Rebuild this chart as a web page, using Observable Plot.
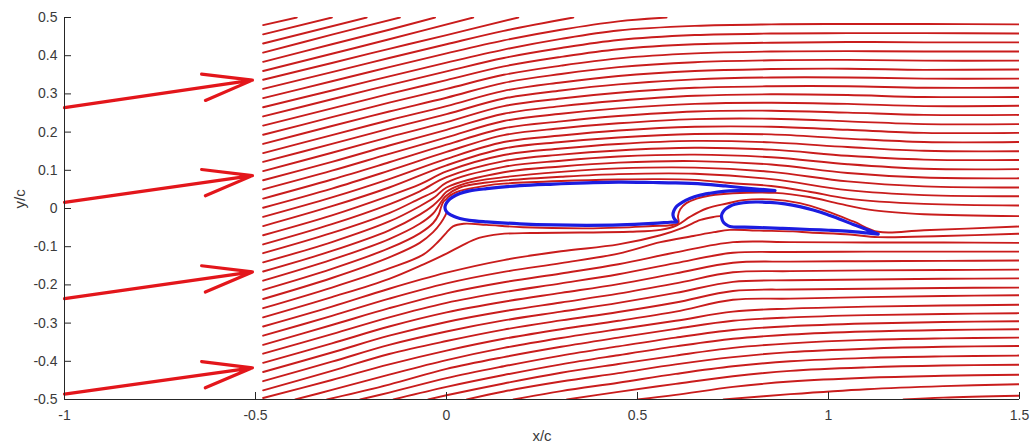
<!DOCTYPE html>
<html><head><meta charset="utf-8">
<script src="https://cdn.jsdelivr.net/npm/d3@7"></script>
<script src="https://cdn.jsdelivr.net/npm/@observablehq/plot@0.6"></script>
<style>html,body{margin:0;padding:0;background:#fff;} svg{display:block;}</style>
</head><body>
<script>
// ---- axis ticks ----
const xTicks = [-1, -0.5, 0, 0.5, 1, 1.5];
const xTickLabels = ["-1", "-0.5", "0", "0.5", "1", "1.5"];
const yTicks = [-0.5, -0.4, -0.3, -0.2, -0.1, 0, 0.1, 0.2, 0.3, 0.4, 0.5];
const yTickLabels = ["-0.5", "-0.4", "-0.3", "-0.2", "-0.1", "0", "0.1", "0.2", "0.3", "0.4", "0.5"];

// ---- free-stream arrows ----
const arrowStartX = -1, arrowTipX = -0.508;
const arrowStartY = [0.264, 0.016, -0.236, -0.486];
const arrowTipY = [0.336, 0.086, -0.166, -0.417];

// ---- streamlines that leave through the top edge ----
const topExitLines = [
  [[-0.48, 0.480], [-0.392, 0.5]],
  [[-0.48, 0.456], [-0.30, 0.5]],
  [[-0.48, 0.432], [-0.209, 0.5]],
  [[-0.48, 0.408], [-0.30, 0.455], [-0.122, 0.5]],
  [[-0.48, 0.384], [-0.30, 0.430], [-0.15, 0.468], [-0.03, 0.5]],
  [[-0.48, 0.360], [-0.30, 0.405], [-0.15, 0.443], [0.07, 0.5]],
  [[-0.48, 0.337], [-0.30, 0.381], [-0.15, 0.418], [0, 0.454], [0.188, 0.5]],
  [[-0.48, 0.313], [-0.30, 0.357], [-0.15, 0.394], [0, 0.430], [0.15, 0.465], [0.332, 0.5]],
  [[-0.48, 0.289], [-0.30, 0.333], [-0.15, 0.370], [0, 0.406], [0.15, 0.440], [0.30, 0.468], [0.45, 0.490], [0.576, 0.5]]
];

// ---- streamlines passing above the main element ----
const upperStationsX = [-0.48, -0.3, -0.15, 0, 0.15, 0.3, 0.45, 0.65, 0.85, 1.05, 1.25, 1.5];
const upperLinesY = [
  [0.265, 0.309, 0.346, 0.382, 0.416, 0.444, 0.466, 0.478, 0.482, 0.483, 0.483, 0.482],
  [0.241, 0.286, 0.323, 0.359, 0.394, 0.420, 0.441, 0.454, 0.458, 0.459, 0.459, 0.458],
  [0.217, 0.262, 0.300, 0.336, 0.372, 0.397, 0.417, 0.430, 0.434, 0.436, 0.435, 0.435],
  [0.193, 0.239, 0.277, 0.313, 0.350, 0.374, 0.393, 0.406, 0.411, 0.412, 0.411, 0.411],
  [0.169, 0.216, 0.254, 0.290, 0.329, 0.352, 0.370, 0.383, 0.388, 0.389, 0.387, 0.387],
  [0.145, 0.192, 0.231, 0.268, 0.308, 0.330, 0.347, 0.360, 0.365, 0.366, 0.363, 0.364],
  [0.122, 0.169, 0.209, 0.247, 0.288, 0.309, 0.325, 0.338, 0.343, 0.343, 0.340, 0.340],
  [0.098, 0.146, 0.187, 0.226, 0.268, 0.288, 0.303, 0.316, 0.320, 0.320, 0.316, 0.316],
  [0.074, 0.122, 0.165, 0.206, 0.248, 0.268, 0.282, 0.295, 0.299, 0.297, 0.292, 0.292],
  [0.050, 0.099, 0.143, 0.186, 0.229, 0.248, 0.262, 0.274, 0.277, 0.274, 0.268, 0.269],
  [0.026, 0.076, 0.121, 0.167, 0.210, 0.228, 0.242, 0.254, 0.256, 0.251, 0.245, 0.245],
  [0.002, 0.052, 0.099, 0.148, 0.192, 0.210, 0.223, 0.234, 0.235, 0.228, 0.221, 0.221],
  [-0.022, 0.029, 0.077, 0.130, 0.174, 0.191, 0.204, 0.214, 0.214, 0.206, 0.198, 0.198],
  [-0.046, 0.006, 0.055, 0.113, 0.157, 0.174, 0.186, 0.195, 0.194, 0.183, 0.174, 0.174],
  [-0.070, -0.018, 0.033, 0.097, 0.140, 0.157, 0.169, 0.177, 0.173, 0.161, 0.151, 0.150],
  [-0.094, -0.041, 0.011, 0.082, 0.124, 0.141, 0.152, 0.159, 0.154, 0.138, 0.128, 0.127],
  [-0.117, -0.064, -0.012, 0.068, 0.109, 0.125, 0.136, 0.141, 0.134, 0.116, 0.104, 0.103],
  [-0.141, -0.088, -0.034, 0.055, 0.095, 0.110, 0.120, 0.124, 0.115, 0.093, 0.081, 0.079],
  [-0.165, -0.111, -0.057, 0.044, 0.082, 0.096, 0.105, 0.107, 0.096, 0.071, 0.058, 0.055],
  [-0.189, -0.134, -0.080, 0.034, 0.073, 0.083, 0.090, 0.091, 0.077, 0.048, 0.035, 0.032],
  [-0.213, -0.158, -0.104, 0.025, 0.065, 0.072, 0.076, 0.075, 0.059, 0.026, 0.012, 0.008]
];
// extra points where these lines bend round the leading edge
const upperExtraPoints = {
  14: [[-0.07, 0.063]],
  15: [[-0.07, 0.045]],
  16: [[-0.07, 0.026], [-0.03, 0.045]],
  17: [[-0.07, 0.006], [-0.03, 0.030]],
  18: [[-0.07, -0.016], [-0.035, 0.008], [-0.015, 0.027], [0.05, 0.066]],
  19: [[-0.07, -0.040], [-0.035, -0.013], [-0.02, 0.008], [-0.01, 0.023], [0.035, 0.055], [0.105, 0.068]],
  20: [[-0.07, -0.065], [-0.035, -0.038], [-0.02, -0.015], [-0.014, 0.004], [-0.008, 0.018], [0.005, 0.031], [0.035, 0.046], [0.105, 0.060], [0.55, 0.077], [0.75, 0.066], [0.95, 0.044]]
};

// ---- streamlines near the lower surface, slot and flap ----
const nearWallLines = [
  // stagnation line on the main element nose
  [[-0.48, -0.237], [-0.3, -0.182], [-0.15, -0.128], [-0.07, -0.09], [-0.035, -0.062], [-0.015, -0.038], [-0.003, -0.018], [0.0, -0.011]],
  // along the main lower surface, round the cove, past the main trailing edge
  [[-0.48, -0.261], [-0.3, -0.207], [-0.15, -0.157], [-0.06, -0.12], [-0.02, -0.085], [0.0, -0.063], [0.017, -0.047], [0.045, -0.04], [0.105, -0.043], [0.2, -0.049], [0.367, -0.052], [0.454, -0.05], [0.54, -0.046], [0.585, -0.044], [0.607, -0.038], [0.606, -0.02], [0.612, -0.002], [0.628, 0.014], [0.655, 0.026], [0.69, 0.034], [0.75, 0.04], [0.86, 0.041], [0.95, 0.03], [1.03, 0.012], [1.12, -0.005], [1.25, -0.015], [1.5, -0.02]],
  // through the slot and over the flap
  [[-0.48, -0.285], [-0.3, -0.232], [-0.15, -0.184], [-0.06, -0.146], [0.0, -0.118], [0.04, -0.097], [0.085, -0.077], [0.14, -0.067], [0.22, -0.064], [0.35, -0.063], [0.48, -0.061], [0.56, -0.056], [0.603, -0.044], [0.637, -0.022], [0.681, 0.0], [0.734, 0.013], [0.777, 0.022], [0.847, 0.024], [0.925, 0.014], [0.995, -0.007], [1.065, -0.034], [1.13, -0.061], [1.25, -0.057], [1.5, -0.047]],
  // stagnation line on the flap nose
  [[-0.48, -0.309], [-0.3, -0.257], [-0.15, -0.21], [0, -0.168], [0.15, -0.135], [0.3, -0.112], [0.45, -0.094], [0.56, -0.07], [0.62, -0.05], [0.665, -0.03], [0.7, -0.022], [0.716, -0.02]],
  // along the flap lower surface
  [[-0.48, -0.333], [-0.3, -0.281], [-0.15, -0.236], [0, -0.196], [0.15, -0.166], [0.3, -0.143], [0.45, -0.118], [0.56, -0.088], [0.646, -0.072], [0.7, -0.062], [0.742, -0.056], [0.82, -0.058], [0.907, -0.06], [0.951, -0.063], [1.056, -0.068], [1.13, -0.075], [1.3, -0.072], [1.5, -0.066]]
];

// ---- streamlines below the airfoil ----
const lowerStationsX = [-0.48, -0.3, -0.15, 0, 0.15, 0.3, 0.45, 0.6, 0.75, 0.9, 1.1, 1.3, 1.5];
const lowerLinesY = [
  [-0.357, -0.305, -0.261, -0.222, -0.193, -0.170, -0.146, -0.115, -0.088, -0.088, -0.089, -0.089, -0.090],
  [-0.380, -0.329, -0.285, -0.247, -0.219, -0.196, -0.172, -0.143, -0.116, -0.114, -0.113, -0.113, -0.113],
  [-0.404, -0.353, -0.309, -0.272, -0.244, -0.221, -0.198, -0.170, -0.142, -0.139, -0.138, -0.137, -0.136],
  [-0.428, -0.377, -0.333, -0.297, -0.269, -0.246, -0.223, -0.196, -0.167, -0.164, -0.162, -0.161, -0.160],
  [-0.452, -0.401, -0.357, -0.322, -0.293, -0.270, -0.247, -0.221, -0.192, -0.188, -0.186, -0.184, -0.183],
  [-0.476, -0.425, -0.381, -0.347, -0.317, -0.293, -0.271, -0.246, -0.216, -0.212, -0.210, -0.208, -0.207],
  [-0.496, -0.449, -0.408, -0.372, -0.341, -0.316, -0.294, -0.270, -0.239, -0.236, -0.232, -0.229, -0.227]
];
// streamlines entering through the bottom edge
const bottomEntryX = [-0.396, -0.313, -0.226, -0.139, -0.048, 0.053, 0.175, 0.315, 0.5, 0.725, 1.196];
const bottomLinesY = [
  [null, -0.475, -0.435, -0.397, -0.365, -0.339, -0.316, -0.294, -0.270, -0.262, -0.257, -0.254, -0.252],
  [null, null, -0.461, -0.420, -0.389, -0.362, -0.338, -0.315, -0.294, -0.285, -0.279, -0.276, -0.274],
  [null, null, -0.482, -0.444, -0.413, -0.385, -0.361, -0.338, -0.318, -0.308, -0.301, -0.297, -0.295],
  [null, null, null, -0.467, -0.436, -0.408, -0.384, -0.361, -0.341, -0.330, -0.322, -0.318, -0.316],
  [null, null, null, -0.489, -0.458, -0.430, -0.407, -0.385, -0.365, -0.353, -0.344, -0.340, -0.338],
  [null, null, null, null, -0.479, -0.453, -0.431, -0.408, -0.389, -0.376, -0.367, -0.362, -0.360],
  [null, null, null, null, null, -0.478, -0.456, -0.433, -0.413, -0.400, -0.391, -0.387, -0.385],
  [null, null, null, null, null, null, -0.480, -0.459, -0.439, -0.425, -0.416, -0.411, -0.409],
  [null, null, null, null, null, null, null, -0.488, -0.467, -0.453, -0.443, -0.438, -0.435],
  [null, null, null, null, null, null, null, null, null, -0.486, -0.473, -0.465, -0.460],
  [null, null, null, null, null, null, null, null, null, null, null, -0.495, -0.490]
];

// ---- two-element airfoil outlines ----
const mainElement = [
  [0.86, 0.047], [0.79, 0.053], [0.73, 0.059], [0.672, 0.064], [0.6, 0.067], [0.541, 0.068], [0.45, 0.069],
  [0.367, 0.067], [0.28, 0.064], [0.192, 0.060], [0.105, 0.052], [0.06, 0.046], [0.035, 0.039], [0.015, 0.029],
  [0.004, 0.020], [-0.002, 0.011], [-0.004, 0.003], [-0.002, -0.005], [0.005, -0.013], [0.02, -0.021],
  [0.035, -0.026], [0.06, -0.031], [0.105, -0.035], [0.192, -0.040], [0.28, -0.043], [0.367, -0.044],
  [0.454, -0.043], [0.541, -0.039], [0.585, -0.036], [0.603, -0.035], [0.597, -0.028], [0.593, -0.018],
  [0.595, -0.006], [0.603, 0.006], [0.618, 0.017], [0.637, 0.026], [0.66, 0.034], [0.69, 0.040],
  [0.725, 0.045], [0.76, 0.047], [0.81, 0.047], [0.86, 0.047]
];
const flapElement = [
  [1.13, -0.067], [1.1, -0.055], [1.065, -0.042], [1.03, -0.028], [0.995, -0.015], [0.96, -0.004],
  [0.925, 0.005], [0.886, 0.012], [0.847, 0.016], [0.81, 0.017], [0.777, 0.015], [0.755, 0.011],
  [0.742, 0.006], [0.731, -0.001], [0.724, -0.009], [0.72, -0.018], [0.721, -0.027], [0.725, -0.036],
  [0.732, -0.042], [0.742, -0.047], [0.78, -0.049], [0.82, -0.050], [0.88, -0.052], [0.951, -0.055],
  [1.0, -0.057], [1.056, -0.060], [1.1, -0.064], [1.13, -0.067]
];

// ---- build tables for Plot ----
const streams = [];
let sid = 0;
function addLine(pts) { const id = sid++; pts.forEach(([x, y], j) => streams.push({id, j, x, y})); }
topExitLines.forEach(addLine);
upperLinesY.forEach((ys, k) => {
  const pts = upperStationsX.map((x, s) => [x, ys[s]]).concat(upperExtraPoints[k] || []);
  pts.sort((a, b) => a[0] - b[0]);
  addLine(pts);
});
nearWallLines.forEach(addLine);
lowerLinesY.forEach(ys => addLine(lowerStationsX.map((x, s) => [x, ys[s]])));
bottomLinesY.forEach((ys, k) => {
  const pts = [[bottomEntryX[k], -0.5]];
  lowerStationsX.forEach((x, s) => { if (ys[s] != null && x > bottomEntryX[k]) pts.push([x, ys[s]]); });
  addLine(pts);
});
const arrows = arrowStartY.map((y, i) => ({x1: arrowStartX, y1: y, x2: arrowTipX, y2: arrowTipY[i]}));
const toXY = pts => pts.map(([x, y]) => ({x, y}));

const RED = "#c91c1c", ARROW = "#e3161b", BLUE = "#1c1ce0", AXIS = "#262626";

const chart = Plot.plot({
  width: 1033, height: 447,
  marginLeft: 64, marginRight: 14, marginTop: 17, marginBottom: 48,
  x: {domain: [-1, 1.5]},
  y: {domain: [-0.5, 0.5]},
  style: {fontFamily: "'Liberation Sans', Arial, Helvetica, sans-serif", fontSize: "14px", color: "#3a3a3a", background: "#fff"},
  marks: [
    Plot.line(streams, {x: "x", y: "y", z: "id", curve: "catmull-rom", stroke: RED, strokeWidth: 1.9, clip: true}),
    Plot.arrow(arrows, {x1: "x1", y1: "y1", x2: "x2", y2: "y2", stroke: ARROW, strokeWidth: 3.2, headAngle: 30, headLength: 24}),
    Plot.line(toXY(mainElement), {x: "x", y: "y", curve: "catmull-rom", fill: "white", stroke: BLUE, strokeWidth: 3.2}),
    Plot.line(toXY(flapElement), {x: "x", y: "y", curve: "catmull-rom", fill: "white", stroke: BLUE, strokeWidth: 3.2}),
    Plot.ruleY([-0.5], {stroke: AXIS, strokeWidth: 1}),
    Plot.ruleX([-1], {stroke: AXIS, strokeWidth: 1}),
    Plot.axisX({ticks: xTicks, tickFormat: d => xTickLabels[xTicks.indexOf(d)], tickSize: -7, tickPadding: 18, stroke: AXIS}),
    Plot.axisY({ticks: yTicks, tickFormat: d => yTickLabels[yTicks.indexOf(d)], tickSize: -7, tickPadding: 14, stroke: AXIS}),
    Plot.text(["x/c"], {frameAnchor: "bottom", dy: 41, fontSize: 15, fill: "#3a3a3a"}),
    Plot.text(["y/c"], {frameAnchor: "left", dx: -44, rotate: -90, fontSize: 15, fill: "#3a3a3a"})
  ]
});
document.body.appendChild(chart);
</script>
</body></html>
